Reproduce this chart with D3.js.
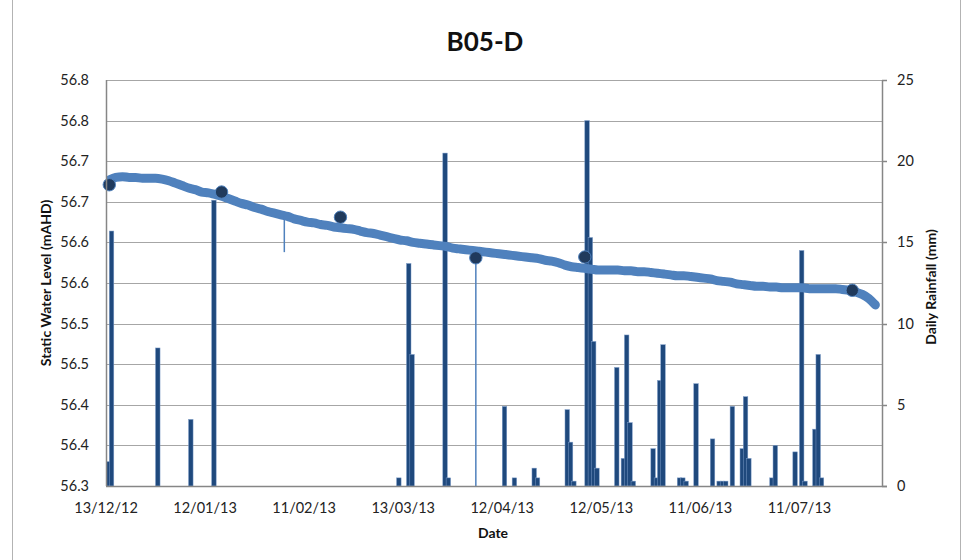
<!DOCTYPE html>
<html>
<head>
<meta charset="utf-8">
<script src="https://cdn.jsdelivr.net/npm/d3@7"></script>
<style>
  html, body { margin: 0; padding: 0; background: #fff; }
  #chart { width: 967px; height: 560px; }
  .grid line { stroke: #a6a6a6; stroke-width: 1; }
  .tick-label { font-family: Lato, "Open Sans", sans-serif; font-size: 14.5px; fill: #222; }
  .axis-title { font-family: Lato, "Open Sans", sans-serif; font-weight: bold; font-size: 14px; fill: #111; }
</style>
</head>
<body>
<div id="chart"></div>
<script>
(function(){

    // Logger water level: one reading every 2 days from levelStart
    const levelStart = "2012-12-14";
    const levelStepDays = 2;
    const levelValues = [
        56.677, 56.680, 56.681, 56.680, 56.680, 56.679, 56.679, 56.679, 56.678, 56.676,
        56.673, 56.670, 56.667, 56.665, 56.662, 56.661, 56.659, 56.657, 56.654, 56.651,
        56.648, 56.646, 56.643, 56.641, 56.638, 56.636, 56.634, 56.632, 56.629, 56.627,
        56.625, 56.624, 56.622, 56.621, 56.619, 56.618, 56.617, 56.616, 56.614, 56.612,
        56.611, 56.609, 56.607, 56.605, 56.603, 56.602, 56.600, 56.599, 56.598, 56.597,
        56.596, 56.595, 56.593, 56.592, 56.591, 56.590, 56.589, 56.588, 56.587, 56.586,
        56.585, 56.584, 56.583, 56.582, 56.581, 56.580, 56.578, 56.577, 56.575, 56.572,
        56.570, 56.569, 56.568, 56.567, 56.566, 56.566, 56.566, 56.566, 56.565, 56.565,
        56.564, 56.564, 56.563, 56.562, 56.561, 56.560, 56.559, 56.559, 56.558, 56.557,
        56.556, 56.555, 56.553, 56.552, 56.551, 56.549, 56.548, 56.547, 56.546, 56.546,
        56.545, 56.545, 56.544, 56.544, 56.544, 56.544, 56.543, 56.543, 56.543, 56.543,
        56.543, 56.542, 56.541, 56.539, 56.536, 56.531, 56.523
    ];

    // Single-reading dropouts in the logger record
    const spikeDates = ["2013-02-05", "2013-04-04"];
    const spikeValues = [56.588, 56.25];

    // Manual dip readings
    const manualDates = ["2012-12-14", "2013-01-17", "2013-02-22", "2013-04-04", "2013-05-07", "2013-07-27"];
    const manualValues = [56.671, 56.662, 56.631, 56.581, 56.582, 56.541];

    // Daily rainfall (mm)
    const rainDates = [
        "2012-12-13", "2012-12-14", "2012-12-28", "2013-01-07", "2013-01-14",
        "2013-03-11", "2013-03-14", "2013-03-15", "2013-03-25", "2013-03-26",
        "2013-04-12", "2013-04-15", "2013-04-21", "2013-04-22",
        "2013-05-01", "2013-05-02", "2013-05-03", "2013-05-07", "2013-05-08", "2013-05-09", "2013-05-10",
        "2013-05-16", "2013-05-18", "2013-05-19", "2013-05-20", "2013-05-21",
        "2013-05-27", "2013-05-28", "2013-05-29", "2013-05-30",
        "2013-06-04", "2013-06-05", "2013-06-06", "2013-06-09", "2013-06-14",
        "2013-06-16", "2013-06-17", "2013-06-18", "2013-06-20",
        "2013-06-23", "2013-06-24", "2013-06-25",
        "2013-07-02", "2013-07-03", "2013-07-09", "2013-07-11", "2013-07-12",
        "2013-07-15", "2013-07-16", "2013-07-17"
    ];
    const rainValues = [
        1.5, 15.7, 8.5, 4.1, 17.6,
        0.5, 13.7, 8.1, 20.5, 0.5,
        4.9, 0.5, 1.1, 0.5,
        4.7, 2.7, 0.3, 22.5, 15.3, 8.9, 1.1,
        7.3, 1.7, 9.3, 3.9, 0.3,
        2.3, 0.5, 6.5, 8.7,
        0.5, 0.5, 0.3, 6.3, 2.9,
        0.3, 0.3, 0.3, 4.9,
        2.3, 5.5, 1.7,
        0.5, 2.5, 2.1, 14.5, 0.3,
        3.5, 8.1, 0.5
    ];

    // Axes
    const xDomain = ["2012-12-13", "2013-08-05"];
    const xTickDates = ["2012-12-13", "2013-01-12", "2013-02-11", "2013-03-13",
                        "2013-04-12", "2013-05-12", "2013-06-11", "2013-07-11"];
    const levelTicks = [56.30, 56.35, 56.40, 56.45, 56.50, 56.55, 56.60, 56.65, 56.70, 56.75, 56.80];
    const levelTickLabels = ["56.3", "56.4", "56.4", "56.5", "56.5", "56.6", "56.6", "56.7", "56.7", "56.8", "56.8"];
    const rainTicks = [0, 5, 10, 15, 20, 25];

    const width = 967, height = 560;
    const margin = { top: 80, right: 85, bottom: 74, left: 106 };
    const plotW = width - margin.left - margin.right;
    const plotH = height - margin.top - margin.bottom;

    const parse = d3.utcParse("%Y-%m-%d");
    const fmt = d3.utcFormat("%d/%m/%y");

    const svg = d3.select("#chart").append("svg")
        .attr("width", width)
        .attr("height", height);

    svg.append("rect").attr("width", width).attr("height", height).attr("fill", "#fff");

    // outer chart frame
    svg.append("rect")
        .attr("x", 12.5).attr("y", -5)
        .attr("width", 948).attr("height", height + 10)
        .attr("fill", "none").attr("stroke", "#b3b3b3");

    const g = svg.append("g").attr("transform", `translate(${margin.left},${margin.top})`);

    // 1. Scales
    const x = d3.scaleUtc().domain(xDomain.map(parse)).range([0, plotW]);
    const yLevel = d3.scaleLinear().domain([56.3, 56.8]).range([plotH, 0]);
    const yRain = d3.scaleLinear().domain([0, 25]).range([plotH, 0]);
    const dayPx = x(d3.utcDay.offset(parse(xDomain[0]), 1)) - x(parse(xDomain[0]));

    g.append("clipPath").attr("id", "plot-clip")
        .append("rect").attr("width", plotW).attr("height", plotH);

    // 2. Gridlines
    g.append("g").attr("class", "grid")
        .selectAll("line")
        .data(levelTicks)
        .join("line")
        .attr("x1", 0).attr("x2", plotW)
        .attr("y1", d => Math.round(yLevel(d)) + 0.5)
        .attr("y2", d => Math.round(yLevel(d)) + 0.5);

    // 3. Rainfall bars
    const rain = rainDates.map((d, i) => ({ date: parse(d), value: rainValues[i] }));
    g.append("g")
        .attr("clip-path", "url(#plot-clip)")
        .selectAll("rect")
        .data(rain)
        .join("rect")
        .attr("x", d => x(d.date))
        .attr("y", d => yRain(d.value))
        .attr("width", dayPx + 1.2)
        .attr("height", d => plotH - yRain(d.value))
        .attr("fill", "#1f497d")
        .attr("stroke", "#7d9cc8")
        .attr("stroke-width", 0.5);

    // 4. Water level line (noisy logger band drawn as a wide stroke)
    const level = levelValues.map((v, i) => ({
        date: d3.utcDay.offset(parse(levelStart), i * levelStepDays),
        value: v
    }));
    const line = d3.line()
        .curve(d3.curveMonotoneX)
        .x(d => x(d.date))
        .y(d => yLevel(d.value));

    const lineG = g.append("g").attr("clip-path", "url(#plot-clip)");
    lineG.append("path")
        .datum(level)
        .attr("d", line)
        .attr("fill", "none")
        .attr("stroke", "#4f81bd")
        .attr("stroke-width", 9)
        .attr("stroke-linejoin", "round")
        .attr("stroke-linecap", "round");

    // dropouts drawn as thin excursions from the band
    const bisect = d3.bisector(d => d.date).left;
    const spikes = spikeDates.map((d, i) => {
        const date = parse(d);
        const j = Math.min(bisect(level, date), level.length - 1);
        return { date: date, from: level[j].value, value: spikeValues[i] };
    });
    lineG.selectAll(".spike")
        .data(spikes)
        .join("line")
        .attr("class", "spike")
        .attr("x1", d => x(d.date)).attr("x2", d => x(d.date))
        .attr("y1", d => yLevel(d.from))
        .attr("y2", d => yLevel(d.value))
        .attr("stroke", "#4f81bd")
        .attr("stroke-width", 1.5);

    // 5. Manual readings
    g.append("g")
        .selectAll("circle")
        .data(manualDates.map((d, i) => ({ date: parse(d), value: manualValues[i] })))
        .join("circle")
        .attr("cx", d => x(d.date))
        .attr("cy", d => yLevel(d.value))
        .attr("r", 6.2)
        .attr("fill", "#203a5c")
        .attr("stroke", "#4f81bd")
        .attr("stroke-width", 1);

    // 6. Axes lines
    const axisColor = "#868686";
    g.append("line").attr("x1", 0.5).attr("x2", 0.5).attr("y1", 0).attr("y2", plotH)
        .attr("stroke", axisColor).attr("stroke-width", 1.5);
    g.append("line").attr("x1", plotW + 0.5).attr("x2", plotW + 0.5).attr("y1", 0).attr("y2", plotH)
        .attr("stroke", axisColor).attr("stroke-width", 1.5);
    g.append("line").attr("x1", 0).attr("x2", plotW + 5).attr("y1", plotH + 0.5).attr("y2", plotH + 0.5)
        .attr("stroke", axisColor).attr("stroke-width", 1.5);

    // right axis ticks
    g.append("g").selectAll("line")
        .data(rainTicks)
        .join("line")
        .attr("x1", plotW).attr("x2", plotW + 5)
        .attr("y1", d => Math.round(yRain(d)) + 0.5)
        .attr("y2", d => Math.round(yRain(d)) + 0.5)
        .attr("stroke", axisColor).attr("stroke-width", 1.5);

    // 7. Tick labels
    g.append("g").selectAll("text")
        .data(levelTicks)
        .join("text")
        .attr("class", "tick-label")
        .attr("x", -17)
        .attr("y", d => yLevel(d))
        .attr("dy", "0.35em")
        .attr("text-anchor", "end")
        .text((d, i) => levelTickLabels[i]);

    g.append("g").selectAll("text")
        .data(rainTicks)
        .join("text")
        .attr("class", "tick-label")
        .attr("x", plotW + 15)
        .attr("y", d => yRain(d))
        .attr("dy", "0.35em")
        .text(d => d);

    g.append("g").selectAll("text")
        .data(xTickDates.map(parse))
        .join("text")
        .attr("class", "tick-label")
        .attr("x", d => x(d))
        .attr("y", plotH + 27)
        .attr("text-anchor", "middle")
        .text(d => fmt(d));

    // 8. Titles
    svg.append("text")
        .attr("x", 485).attr("y", 51)
        .attr("text-anchor", "middle")
        .attr("font-family", "Lato, 'Open Sans', sans-serif")
        .attr("font-weight", "bold")
        .attr("font-size", 26)
        .attr("fill", "#111")
        .text("B05-D");

    svg.append("text")
        .attr("class", "axis-title")
        .attr("text-anchor", "middle")
        .attr("transform", `translate(51,${margin.top + plotH / 2}) rotate(-90)`)
        .text("Static Water Level (mAHD)");

    svg.append("text")
        .attr("class", "axis-title")
        .attr("text-anchor", "middle")
        .attr("transform", `translate(936,${margin.top + plotH / 2 + 4}) rotate(-90)`)
        .text("Daily Rainfall (mm)");

    svg.append("text")
        .attr("class", "axis-title")
        .attr("x", 493).attr("y", 538)
        .attr("text-anchor", "middle")
        .text("Date");

})();
</script>
</body>
</html>
